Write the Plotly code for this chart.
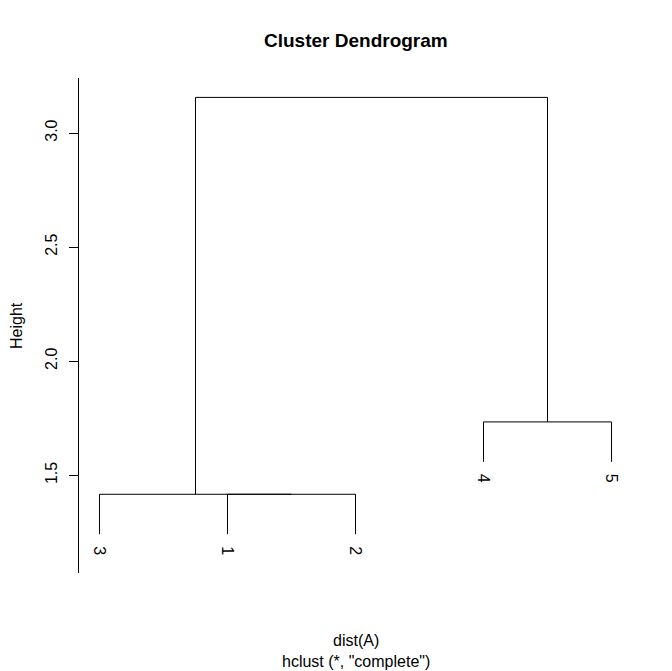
import plotly.graph_objects as go

# hclust result (R style): negative = leaf, positive = earlier merge step
leaf_labels = ["1", "2", "3", "4", "5"]
leaf_order = [3, 1, 2, 4, 5]
merge = [(-1, -2), (-3, 1), (-4, -5), (2, 3)]
merge_height = [1.417, 1.417, 1.734, 3.156]
hang = 0.175

y_ticks = [1.5, 2.0, 2.5, 3.0]
y_tick_text = ["1.5", "2.0", "2.5", "3.0"]

FONT = "Liberation Sans, Arial, sans-serif"

leaf_x = {leaf: i + 1 for i, leaf in enumerate(leaf_order)}
node_x = {}
xs, ys = [], []
leaf_ends = []


def child_pos(c, h):
    if c < 0:
        leaf = -c
        leaf_ends.append((leaf, leaf_x[leaf], h - hang))
        return leaf_x[leaf], h - hang
    return node_x[c], merge_height[c - 1]


for step, (a, b) in enumerate(merge, start=1):
    h = merge_height[step - 1]
    xa, ya = child_pos(a, h)
    xb, yb = child_pos(b, h)
    xs += [xa, xa, xb, xb, None]
    ys += [ya, h, h, yb, None]
    node_x[step] = (xa + xb) / 2

fig = go.Figure()
fig.add_trace(go.Scatter(
    x=xs, y=ys, mode='lines', line=dict(color='black', width=1),
    hoverinfo='skip', showlegend=False,
))

for leaf, x, y in leaf_ends:
    fig.add_annotation(
        x=x, y=y, xref='x', yref='y', text=leaf_labels[leaf - 1],
        showarrow=False, textangle=90, yanchor='top', xanchor='center',
        yshift=-10, font=dict(family=FONT, size=16, color='black'),
    )

fig.add_annotation(
    xref='paper', yref='paper', x=0.5, y=1.076, text='<b>Cluster Dendrogram</b>',
    showarrow=False, yanchor='middle', font=dict(family=FONT, size=19, color='black'),
)
fig.add_annotation(
    xref='paper', yref='paper', x=0.5, y=-0.137, text='dist(A)',
    showarrow=False, yanchor='middle', font=dict(family=FONT, size=16, color='black'),
)
fig.add_annotation(
    xref='paper', yref='paper', x=0.5, y=-0.178, text='hclust (*, "complete")',
    showarrow=False, yanchor='middle', font=dict(family=FONT, size=16, color='black'),
)
fig.add_annotation(
    xref='paper', yref='paper', x=-0.113, y=0.5, text='Height', textangle=-90,
    showarrow=False, xanchor='center', yanchor='middle', borderpad=0,
    font=dict(family=FONT, size=16, color='black'),
)

# page body has an 8px margin, so the figure is a little smaller than the window
fig.update_layout(
    width=664, height=663,
    margin=dict(l=71, r=40, t=70, b=98),
    paper_bgcolor='white', plot_bgcolor='white',
    showlegend=False,
    xaxis=dict(range=[0.84, 5.16], visible=False, fixedrange=True),
    yaxis=dict(
        range=[1.072, 3.241], showgrid=False, zeroline=False,
        showline=True, linecolor='black', linewidth=1,
        ticks='outside', ticklen=9, tickwidth=1, tickcolor='black',
        tickvals=y_ticks, ticktext=y_tick_text, tickangle=-90,
        ticklabelstandoff=6,
        tickfont=dict(family=FONT, size=16, color='black'),
    ),
)

fig.write_html("out.html")
